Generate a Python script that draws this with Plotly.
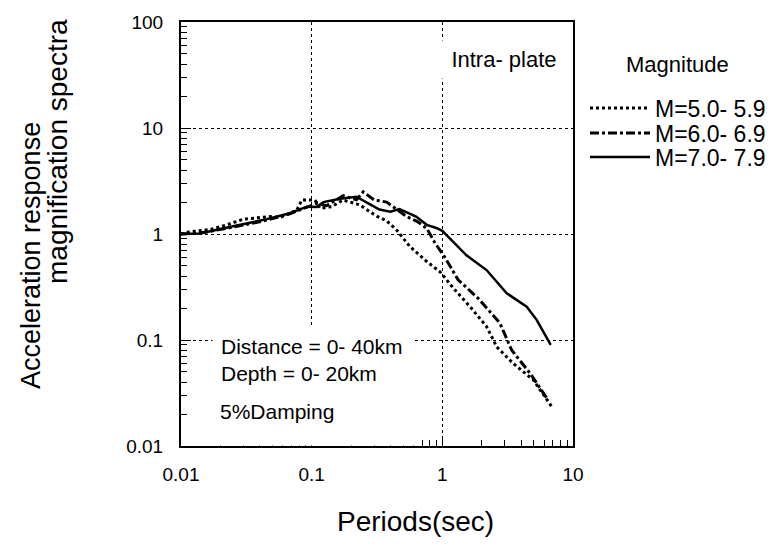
import plotly.graph_objects as go

# ---- data ----
period_m5 = [0.01, 0.0117, 0.0166, 0.0224, 0.030, 0.048, 0.057, 0.077, 0.084, 0.106, 0.116, 0.142,
             0.174, 0.234, 0.279, 0.32, 0.375, 0.447, 0.565, 0.76, 0.96, 1.21, 1.63, 2.18, 2.61,
             3.49, 4.97, 6.87]
amp_m5 = [1.0, 1.05, 1.1, 1.22, 1.38, 1.46, 1.43, 1.68, 2.09, 2.09, 1.75, 1.81,
          2.09, 1.88, 1.62, 1.46, 1.33, 1.09, 0.76, 0.55, 0.44, 0.31, 0.206, 0.134, 0.086,
          0.060, 0.042, 0.0235]

period_m6 = [0.01, 0.014, 0.024, 0.043, 0.068, 0.092, 0.11, 0.13, 0.174, 0.22, 0.248, 0.30,
             0.375, 0.45, 0.533, 0.65, 0.76, 0.88, 1.04, 1.32, 1.88, 2.76, 3.40, 4.69, 6.47]
amp_m6 = [1.0, 1.02, 1.15, 1.33, 1.55, 1.78, 1.95, 1.85, 2.3, 2.1, 2.5, 2.1,
          2.0, 1.7, 1.46, 1.3, 1.13, 0.82, 0.61, 0.37, 0.247, 0.144, 0.080, 0.0485, 0.027]

period_m7 = [0.01, 0.014, 0.024, 0.043, 0.068, 0.092, 0.109, 0.123, 0.165, 0.22, 0.28, 0.33,
             0.40, 0.47, 0.63, 0.76, 0.9, 1.0, 1.53, 2.18, 3.11, 4.42, 5.27, 6.75]
amp_m7 = [1.0, 1.01, 1.17, 1.36, 1.57, 1.81, 1.8, 2.0, 2.15, 2.25, 1.9, 1.7,
          1.62, 1.72, 1.46, 1.22, 1.14, 1.07, 0.63, 0.457, 0.276, 0.206, 0.155, 0.09]

series_names = ["M=5.0- 5.9", "M=6.0- 6.9", "M=7.0- 7.9"]

x_tickvals = [0.01, 0.1, 1, 10]
x_ticktext = ["0.01", "0.1", "1", "10"]
y_tickvals = [0.01, 0.1, 1, 10, 100]
y_ticktext = ["0.01", "0.1", "1", "10", "100"]

FONT = "Liberation Sans, Arial, sans-serif"

fig = go.Figure()
fig.add_trace(go.Scatter(x=period_m5, y=amp_m5, mode="lines", name=series_names[0],
                         legend="legend",
                         line=dict(color="black", width=3, dash="dot")))
fig.add_trace(go.Scatter(x=period_m6, y=amp_m6, mode="lines", name=series_names[1],
                         legend="legend2",
                         line=dict(color="black", width=3, dash="dashdot")))
fig.add_trace(go.Scatter(x=period_m7, y=amp_m7, mode="lines", name=series_names[2],
                         legend="legend3",
                         line=dict(color="black", width=2.5)))

axis_common = dict(
    type="log", showline=True, linecolor="black", linewidth=2, mirror=True,
    showgrid=True, gridcolor="black", gridwidth=1, griddash="dot",
    ticks="inside", ticklen=10, tickwidth=1, tickcolor="black",
    minor=dict(ticks="inside", ticklen=6, tickwidth=1, tickcolor="black",
               showgrid=False, dtick="D1"),
    tickfont=dict(family=FONT, size=19, color="black"),
)
fig.update_xaxes(range=[-2, 1], tickvals=x_tickvals, ticktext=x_ticktext,
                 ticklabelstandoff=10, automargin=False, **axis_common)
fig.update_yaxes(range=[-2, 2], tickvals=y_tickvals, ticktext=y_ticktext,
                 ticklabelstandoff=12, automargin=False, **axis_common)


def px_x(px):
    return (px - 181) / 392


def px_y(py):
    return (446 - py) / 424


annotations = [
    dict(text="Periods(sec)", x=px_x(415), y=px_y(521), xref="paper", yref="paper",
         xanchor="center", yanchor="middle",
         showarrow=False, font=dict(family=FONT, size=28, color="black")),
    dict(text="Acceleration response", x=px_x(31), y=px_y(256), xref="paper", yref="paper",
         xanchor="center", yanchor="middle",
         textangle=-90, showarrow=False, font=dict(family=FONT, size=27, color="black")),
    dict(text="magnification spectra", x=px_x(57), y=px_y(152), xref="paper", yref="paper",
         xanchor="center", yanchor="middle",
         textangle=-90, showarrow=False, font=dict(family=FONT, size=28, color="black")),
    dict(text="Magnitude", x=px_x(677), y=px_y(65), xref="paper", yref="paper",
         xanchor="center", yanchor="middle",
         showarrow=False, font=dict(family=FONT, size=22, color="black")),
    dict(text="Intra- plate", x=px_x(504), y=px_y(59), xref="paper", yref="paper",
         xanchor="center", yanchor="middle",
         showarrow=False, bgcolor="white", borderpad=6, width=120,
         font=dict(family=FONT, size=22, color="black")),
    dict(text="Distance = 0- 40km<br>Depth = 0- 20km", x=px_x(212), y=0.0, xref="paper", yref="paper",
         xanchor="left", yanchor="bottom", showarrow=False, bgcolor="white", borderpad=8,
         width=185, height=102, align="left", valign="top",
         font=dict(family=FONT, size=21, color="black")),
    dict(text="5%Damping", x=px_x(218), y=px_y(411), xref="paper", yref="paper",
         xanchor="left", yanchor="middle", showarrow=False,
         font=dict(family=FONT, size=21, color="black")),
]

legend_style = dict(xanchor="left", yanchor="middle",
                    font=dict(family=FONT, size=23, color="black"),
                    itemwidth=60, bgcolor="rgba(0,0,0,0)", borderwidth=0)

fig.update_layout(
    width=781, height=548,
    margin=dict(l=181, r=208, t=22, b=102, autoexpand=False),
    paper_bgcolor="white", plot_bgcolor="white",
    font=dict(family=FONT, color="black"),
    annotations=annotations,
    showlegend=True,
    legend=dict(x=px_x(585), y=px_y(108), **legend_style),
    legend2=dict(x=px_x(585), y=px_y(133), **legend_style),
    legend3=dict(x=px_x(585), y=px_y(157), **legend_style),
)

fig.write_html("out.html", config={"displayModeBar": False},
               post_script="document.body.style.margin='0px';")
